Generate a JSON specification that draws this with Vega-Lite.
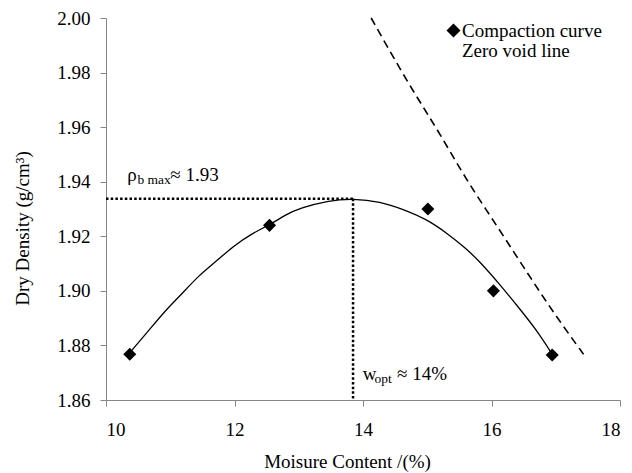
{
  "$schema": "https://vega.github.io/schema/vega-lite/v6.json",
  "autosize": {"type": "none"},
  "padding": {"left": 106, "top": 18, "right": 12, "bottom": 73},
  "width": 514,
  "height": 382,
  "background": "white",
  "config": {
    "view": {"stroke": null},
    "font": "Times New Roman, Liberation Serif, serif",
    "axis": {
      "labelFont": "Times New Roman, Liberation Serif, serif",
      "labelFontSize": 19,
      "labelColor": "black",
      "titleFont": "Times New Roman, Liberation Serif, serif",
      "titleFontSize": 19,
      "titleFontWeight": "normal",
      "titleColor": "black",
      "domainColor": "#868686",
      "tickColor": "#868686",
      "tickSize": 6,
      "grid": false
    },
    "legend": {
      "labelFont": "Times New Roman, Liberation Serif, serif"
    },
    "text": {"font": "Times New Roman, Liberation Serif, serif"}
  },
  "datasets": {
    "points": [
      {"w": 10.37, "rho": 1.8768, "series": "Compaction curve"},
      {"w": 12.545, "rho": 1.9240, "series": "Compaction curve"},
      {"w": 15.01, "rho": 1.9300, "series": "Compaction curve"},
      {"w": 16.03, "rho": 1.9000, "series": "Compaction curve"},
      {"w": 16.945, "rho": 1.8765, "series": "Compaction curve"}
    ],
    "curve": [
      {"w": 10.366, "rho": 1.8772},
      {"w": 10.677, "rho": 1.8858},
      {"w": 10.937, "rho": 1.8931},
      {"w": 11.144, "rho": 1.8980},
      {"w": 11.455, "rho": 1.9059},
      {"w": 11.715, "rho": 1.9108},
      {"w": 11.974, "rho": 1.9163},
      {"w": 12.285, "rho": 1.9212},
      {"w": 12.545, "rho": 1.9242},
      {"w": 12.805, "rho": 1.9280},
      {"w": 13.012, "rho": 1.9303},
      {"w": 13.479, "rho": 1.9332},
      {"w": 13.841, "rho": 1.9338},
      {"w": 14.257, "rho": 1.9328},
      {"w": 14.672, "rho": 1.9295},
      {"w": 14.984, "rho": 1.9263},
      {"w": 15.295, "rho": 1.9214},
      {"w": 15.606, "rho": 1.9155},
      {"w": 15.813, "rho": 1.9108},
      {"w": 16.125, "rho": 1.9025},
      {"w": 16.436, "rho": 1.8935},
      {"w": 16.696, "rho": 1.8858},
      {"w": 16.945, "rho": 1.8768}
    ],
    "zerovoid": [
      {"w": 14.127, "rho": 2.0000},
      {"w": 14.464, "rho": 1.9859},
      {"w": 14.828, "rho": 1.9713},
      {"w": 15.191, "rho": 1.9579},
      {"w": 15.606, "rho": 1.9407},
      {"w": 16.125, "rho": 1.9224},
      {"w": 16.591, "rho": 1.9053},
      {"w": 17.007, "rho": 1.8906},
      {"w": 17.474, "rho": 1.8754}
    ],
    "guides": [
      {"xa": 10, "xb": 13.845, "ya": 1.9338, "yb": 1.9338},
      {"xa": 13.845, "xb": 13.845, "ya": 1.9338, "yb": 1.86}
    ],
    "ann": [
      {"x": 10.33, "y": 1.9404, "label": "ρ", "kind": "main"},
      {"x": 10.49, "y": 1.9393, "label": "b max", "kind": "sub"},
      {"x": 11.0, "y": 1.9404, "label": "≈ 1.93", "kind": "main"},
      {"x": 13.997, "y": 1.8672, "label": "w", "kind": "main"},
      {"x": 14.179, "y": 1.8662, "label": "opt", "kind": "sub"},
      {"x": 14.53, "y": 1.8672, "label": "≈ 14%", "kind": "main"}
    ]
  },
  "layer": [
    {
      "data": {"name": "guides"},
      "mark": {"type": "rule", "color": "black", "strokeWidth": 2.5, "strokeDash": [2.5, 2.2]},
      "encoding": {
        "x": {"field": "xa", "type": "quantitative", "scale": {"domain": [10, 18]},
          "axis": {"values": [10, 12, 14, 16, 18], "format": "d", "title": "Moisure Content /(%)", "labelPadding": 14, "titleX": 241, "titleY": 67, "titleBaseline": "alphabetic"}},
        "x2": {"field": "xb"},
        "y": {"field": "ya", "type": "quantitative", "scale": {"domain": [1.86, 2.0]},
          "axis": {"values": [1.86, 1.88, 1.9, 1.92, 1.94, 1.96, 1.98, 2.0], "format": ".2f", "title": "Dry Density (g/cm³)", "labelPadding": 10, "titleX": -78, "titleY": 210, "titleBaseline": "alphabetic", "titleAngle": 270}},
        "y2": {"field": "yb"}
      }
    },
    {
      "data": {"name": "curve"},
      "mark": {"type": "line", "color": "black", "strokeWidth": 1.3, "interpolate": "basis"},
      "encoding": {
        "x": {"field": "w", "type": "quantitative"},
        "y": {"field": "rho", "type": "quantitative"}
      }
    },
    {
      "data": {"name": "zerovoid"},
      "mark": {"type": "line", "color": "black", "strokeWidth": 1.6, "strokeDash": [8, 5], "interpolate": "basis"},
      "encoding": {
        "x": {"field": "w", "type": "quantitative"},
        "y": {"field": "rho", "type": "quantitative"}
      }
    },
    {
      "data": {"name": "points"},
      "mark": {"type": "point", "filled": true, "color": "black", "opacity": 1, "size": 170},
      "encoding": {
        "x": {"field": "w", "type": "quantitative"},
        "y": {"field": "rho", "type": "quantitative"},
        "shape": {
          "field": "series", "type": "nominal",
          "scale": {"domain": ["Compaction curve", "Zero void line"], "range": ["diamond", "M0,0"]},
          "legend": {
            "title": null, "orient": "none", "legendX": 338, "legendY": 3,
            "labelFont": "Times New Roman, Liberation Serif, serif", "labelFontSize": 19, "labelColor": "black",
            "symbolSize": 196, "symbolFillColor": "black", "symbolStrokeWidth": 0, "symbolOpacity": 1,
            "labelOffset": -1, "rowPadding": -12, "padding": 0
          }
        }
      }
    },
    {
      "data": {"name": "ann"},
      "transform": [{"filter": "datum.kind == 'main'"}],
      "mark": {"type": "text", "align": "left", "baseline": "alphabetic", "font": "Times New Roman, Liberation Serif, serif", "fontSize": 19, "color": "black"},
      "encoding": {
        "x": {"field": "x", "type": "quantitative"},
        "y": {"field": "y", "type": "quantitative"},
        "text": {"field": "label"}
      }
    },
    {
      "data": {"name": "ann"},
      "transform": [{"filter": "datum.kind == 'sub'"}],
      "mark": {"type": "text", "align": "left", "baseline": "alphabetic", "font": "Times New Roman, Liberation Serif, serif", "fontSize": 13.5, "color": "black"},
      "encoding": {
        "x": {"field": "x", "type": "quantitative"},
        "y": {"field": "y", "type": "quantitative"},
        "text": {"field": "label"}
      }
    }
  ]
}
